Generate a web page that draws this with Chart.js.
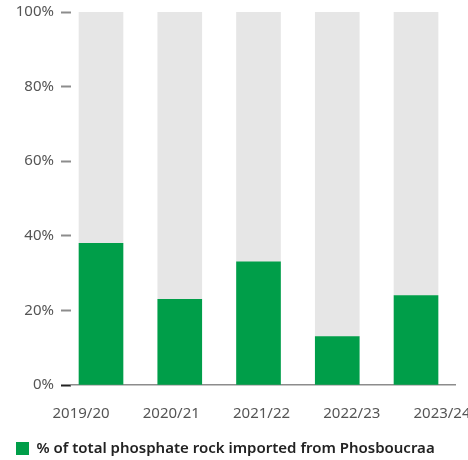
<!DOCTYPE html>
<html>
<head>
<meta charset="utf-8">
<script src="https://cdn.jsdelivr.net/npm/chart.js@4/dist/chart.umd.min.js"></script>
<style>
  html, body { margin: 0; padding: 0; background: #fff; }
  #wrap { position: relative; width: 468px; height: 460px; }
</style>
</head>
<body>
<div id="wrap"><canvas id="chart"></canvas></div>
<script>
// seasons on the x axis
const seasons = ['2019/20', '2020/21', '2021/22', '2022/23', '2023/24'];
// share of total phosphate rock imported from Phosboucraa (%)
const phosShare = [38, 23, 33, 13, 24];
const legendLabel = '% of total phosphate rock imported from Phosboucraa';

const GREEN = '#009e49';
const GREY = '#e6e6e6';
const FONT = '"Noto Sans", "Open Sans", sans-serif';

const rest = phosShare.map(v => 100 - v);

new Chart(document.getElementById('chart'), {
  type: 'bar',
  data: {
    datasets: [
      {
        label: legendLabel,
        data: phosShare.map((v, i) => ({ x: i, y: v })),
        backgroundColor: GREEN,
        barThickness: 44
      },
      {
        label: 'rest',
        data: rest.map((v, i) => ({ x: i, y: v })),
        backgroundColor: GREY,
        barThickness: 44
      }
    ]
  },
  options: {
    responsive: true,
    maintainAspectRatio: false,
    animation: false,
    layout: { padding: { top: 12, right: 13, left: 10, bottom: -6 } },
    scales: {
      x: {
        type: 'linear',
        display: false,
        stacked: true,
        offset: false,
        min: -0.381,
        max: 4.495
      },
      // separate axis for the season labels, they sit a bit off the bar centres
      x2: {
        type: 'linear',
        position: 'bottom',
        min: -0.111,
        max: 4.144,
        offset: false,
        afterBuildTicks: s => { s.ticks = seasons.map((_, i) => ({ value: i })); },
        afterFit: s => { s.paddingLeft = 0; s.paddingRight = 0; },
        grid: { display: false },
        border: { display: true, color: '#8c8c8c', width: 1.5 },
        ticks: {
          autoSkip: false,
          maxRotation: 0,
          padding: 12,
          color: '#555',
          font: { family: FONT, size: 15 },
          callback: v => seasons[v]
        }
      },
      y: {
        stacked: true,
        min: 0,
        max: 100,
        afterFit: s => { s.width = 61; s.paddingTop = 0; s.paddingBottom = 0; },
        border: { display: false },
        grid: {
          drawOnChartArea: false,
          tickLength: 10,
          tickWidth: 2,
          tickColor: c => (c.tick && c.tick.value === 0 ? '#222' : '#8c8c8c')
        },
        ticks: {
          stepSize: 20,
          padding: 7,
          color: '#555',
          font: { family: FONT, size: 15 },
          callback: v => v + '%'
        }
      }
    },
    plugins: {
      tooltip: { enabled: false },
      legend: {
        position: 'bottom',
        align: 'start',
        labels: {
          filter: item => item.datasetIndex === 0,
          boxWidth: 13,
          boxHeight: 13,
          padding: 6,
          color: '#222',
          font: { family: FONT, size: 15, weight: '600' }
        }
      }
    }
  }
});
</script>
</body>
</html>
